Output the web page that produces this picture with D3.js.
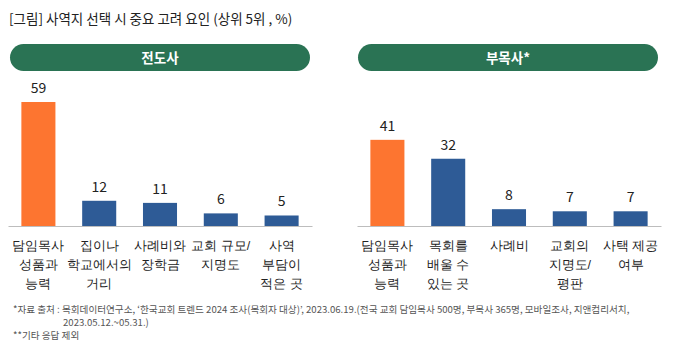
<!DOCTYPE html>
<html><head><meta charset="utf-8">
<script src="https://cdn.jsdelivr.net/npm/d3@7/dist/d3.min.js"></script>
<style>
html,body{margin:0;padding:0;background:#fff;}
svg{display:block;font-family:"Noto Sans CJK KR","Noto Sans",sans-serif;}
</style></head>
<body>
<svg id="c" width="676" height="359"></svg>
<script>
const title = "[그림] 사역지 선택 시 중요 고려 요인 (상위 5위 , %)";
const groupNames = ["전도사", "부목사*"];
const leftCategories = ["담임목사\n성품과\n능력", "집이나\n학교에서의\n거리", "사례비와\n장학금", "교회 규모/\n지명도", "사역\n부담이\n적은 곳"];
const leftValues = [59, 12, 11, 6, 5];
const rightCategories = ["담임목사\n성품과\n능력", "목회를\n배울 수\n있는 곳", "사례비", "교회의\n지명도/\n평판", "사택 제공\n여부"];
const rightValues = [41, 32, 8, 7, 7];
const footnotes = [
  "*자료 출처 : 목회데이터연구소, ‘한국교회 트렌드 2024 조사(목회자 대상)’, 2023.06.19.(전국 교회 담임목사 500명, 부목사 365명, 모바일조사, 지앤컴리서치,",
  "2023.05.12.~05.31.)",
  "**기타 응답 제외"
];

const svg = d3.select("#c");
const ORANGE = "#fd7530", BLUE = "#2e5b96", GREEN = "#2a7354", TXT = "#222";

svg.append("text").attr("x", 9).attr("y", 24).attr("font-size", 13.5).attr("fill", TXT).text(title);

const y = d3.scaleLinear().domain([0, 59]).range([226, 102]);

function panel(x0, x1, pillX0, pillX1, name, cats, vals) {
  svg.append("rect").attr("x", pillX0).attr("y", 44).attr("width", pillX1 - pillX0).attr("height", 27)
    .attr("rx", 13.5).attr("fill", GREEN);
  svg.append("text").attr("x", (pillX0 + pillX1) / 2).attr("y", 63).attr("text-anchor", "middle")
    .attr("font-size", 13.5).attr("font-weight", "bold").attr("fill", "#fff").text(name);

  const x = d3.scaleBand().domain(cats.map((d, i) => i)).range([x0, x1]).paddingInner(0.44).paddingOuter(0.22);
  const g = svg.append("g");
  g.selectAll("rect.bar").data(vals).join("rect").attr("class", "bar")
    .attr("x", (d, i) => x(i)).attr("width", x.bandwidth())
    .attr("y", d => y(d)).attr("height", d => y(0) - y(d))
    .attr("fill", (d, i) => i === 0 ? ORANGE : BLUE);
  g.selectAll("text.val").data(vals).join("text").attr("class", "val")
    .attr("x", (d, i) => x(i) + x.bandwidth() / 2).attr("y", d => y(d) - 9)
    .attr("text-anchor", "middle").attr("font-size", 14).attr("fill", TXT).text(d => d);

  const ax = svg.append("g").attr("transform", `translate(0,${y(0)})`)
    .call(d3.axisBottom(x).tickSize(0).tickFormat(""));
  ax.select(".domain").attr("stroke", "#bdbdbd").attr("stroke-width", 1.2);
  ax.selectAll(".tick text").remove();
  ax.selectAll(".tick").each(function(d) {
    const t = d3.select(this).append("text").attr("fill", TXT).attr("font-size", 12.5)
      .attr("text-anchor", "middle").attr("y", 24);
    cats[d].split("\n").forEach((ln, k) => {
      t.append("tspan").attr("x", 0).attr("dy", k === 0 ? 0 : 19).text(ln);
    });
  });
}

panel(8, 312, 10, 310, groupNames[0], leftCategories, leftValues);
panel(357, 661, 358, 658, groupNames[1], rightCategories, rightValues);

const fn = svg.append("g").attr("font-size", 9.6).attr("fill", "#555");
fn.append("text").attr("x", 13).attr("y", 313).text(footnotes[0]);
fn.append("text").attr("x", 63).attr("y", 326).text(footnotes[1]);
fn.append("text").attr("x", 13).attr("y", 339).text(footnotes[2]);
</script>
</body></html>
